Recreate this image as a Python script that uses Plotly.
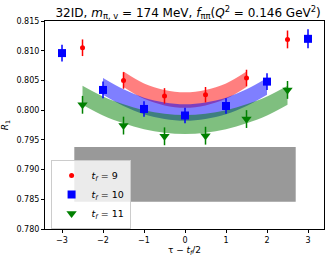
import plotly.graph_objects as go

# ---- data ----
x_tf9 = [-2.5, -1.5, -0.5, 0.5, 1.5, 2.5]
y_tf9 = [0.8105, 0.8050, 0.8024, 0.8026, 0.8054, 0.8119]
e_tf9 = [0.0014, 0.0014, 0.0013, 0.0013, 0.0014, 0.0015]

x_tf10 = [-3, -2, -1, 0, 1, 2, 3]
y_tf10 = [0.8096, 0.8034, 0.8002, 0.7991, 0.8007, 0.8048, 0.8120]
e_tf10 = [0.0014, 0.0014, 0.0013, 0.0013, 0.0013, 0.0014, 0.0016]

x_tf11 = [-2.5, -1.5, -0.5, 0.5, 1.5, 2.5]
y_tf11 = [0.8009, 0.7974, 0.7956, 0.7957, 0.7985, 0.8034]
e_tf11 = [0.0015, 0.0015, 0.0015, 0.0015, 0.0015, 0.0015]

# fit bands (centre, half width)
bx_tf9 = [-1.5, -1.0, -0.5, 0.0, 0.5, 1.0, 1.5]
bc_tf9 = [0.8052, 0.8032, 0.8021, 0.8017, 0.8021, 0.8032, 0.8052]
bw_tf9 = 0.0013

bx_tf10 = [-2.0, -1.5, -1.0, -0.5, 0.0, 0.5, 1.0, 1.5, 2.0]
bc_tf10 = [0.8040, 0.8021, 0.8007, 0.7999, 0.7996, 0.7999, 0.8007, 0.8021, 0.8040]
bw_tf10 = 0.0014

bx_tf11 = [-2.5, -2.0, -1.5, -1.0, -0.5, 0.0, 0.5, 1.0, 1.5, 2.0, 2.5]
bc_tf11 = [0.8025, 0.8007, 0.7994, 0.7984, 0.7978, 0.7976, 0.7978, 0.7984, 0.7994, 0.8007, 0.8025]
bw_tf11 = 0.0016

gray_x = [-2.7, 2.7]
gray_c = 0.7892
gray_w = 0.0046

fig = go.Figure()

def band(xs, cs, w, color):
    up = [c + w for c in cs]
    lo = [c - w for c in cs]
    fig.add_trace(go.Scatter(x=xs, y=up, mode="lines", line=dict(width=0, shape="spline"),
                             showlegend=False, hoverinfo="skip"))
    fig.add_trace(go.Scatter(x=xs, y=lo, mode="lines", line=dict(width=0, shape="spline"),
                             fill="tonexty", fillcolor=color,
                             showlegend=False, hoverinfo="skip"))

# gray band
fig.add_trace(go.Scatter(x=[gray_x[0], gray_x[1], gray_x[1], gray_x[0]],
                         y=[gray_c + gray_w, gray_c + gray_w, gray_c - gray_w, gray_c - gray_w],
                         fill="toself", fillcolor="rgb(153,153,153)", line=dict(width=0),
                         mode="lines", showlegend=False, hoverinfo="skip"))

band(bx_tf9, bc_tf9, bw_tf9, "rgba(255,0,0,0.5)")
band(bx_tf10, bc_tf10, bw_tf10, "rgba(0,0,255,0.5)")
band(bx_tf11, bc_tf11, bw_tf11, "rgba(0,128,0,0.5)")

def pts(xs, ys, es, color, symbol, size, name):
    fig.add_trace(go.Scatter(x=xs, y=ys, mode="markers", name=name,
                             marker=dict(color=color, symbol=symbol, size=size),
                             error_y=dict(type="data", array=es, color=color, thickness=1.5, width=0)))

pts(x_tf9, y_tf9, e_tf9, "red", "circle", 5, "<i>t<sub>f</sub></i> = 9")
pts(x_tf10, y_tf10, e_tf10, "blue", "square", 8, "<i>t<sub>f</sub></i> = 10")
pts(x_tf11, y_tf11, e_tf11, "green", "triangle-down", 9, "<i>t<sub>f</sub></i> = 11")

axis_common = dict(showline=True, linecolor="black", linewidth=1, mirror=True,
                   ticks="outside", ticklen=3, tickcolor="black", showgrid=False,
                   zeroline=False, tickfont=dict(size=8, color="black"), automargin=False)

fig.update_layout(
    width=333, height=260,
    margin=dict(l=45, r=9, t=21, b=31),
    paper_bgcolor="white", plot_bgcolor="white",
    font=dict(family="DejaVu Sans", color="black"),
    title=dict(text="32ID, <i>m</i><sub>π, v</sub> = 174 MeV, <i>f</i><sub>ππ</sub>(<i>Q</i><sup>2</sup> = 0.146 GeV<sup>2</sup>)",
               x=0.565, xanchor="center", y=0.952, yanchor="middle", font=dict(size=12)),
    xaxis=dict(range=[-3.415, 3.39], tickvals=[-3, -2, -1, 0, 1, 2, 3],
               ticktext=["−3", "−2", "−1", "0", "1", "2", "3"],
               title=dict(text="τ − <i>t<sub>f</sub></i>/2", font=dict(size=9), standoff=3),
               **axis_common),
    yaxis=dict(range=[0.780, 0.815], tickvals=[0.780, 0.785, 0.790, 0.795, 0.800, 0.805, 0.810, 0.815],
               tickformat=".3f",
               title=dict(text="<i>R</i><sub>1</sub>", font=dict(size=9), standoff=6),
               **axis_common),
    legend=dict(x=0.02, y=0.0, xanchor="left", yanchor="bottom", bgcolor="rgba(255,255,255,0.8)",
                bordercolor="rgb(204,204,204)", borderwidth=1, font=dict(size=9.5),
                itemwidth=30, tracegroupgap=0, traceorder="normal"),
)

fig.write_html("out.html", config={"displayModeBar": False},
               post_script="document.body.style.margin='0';")
